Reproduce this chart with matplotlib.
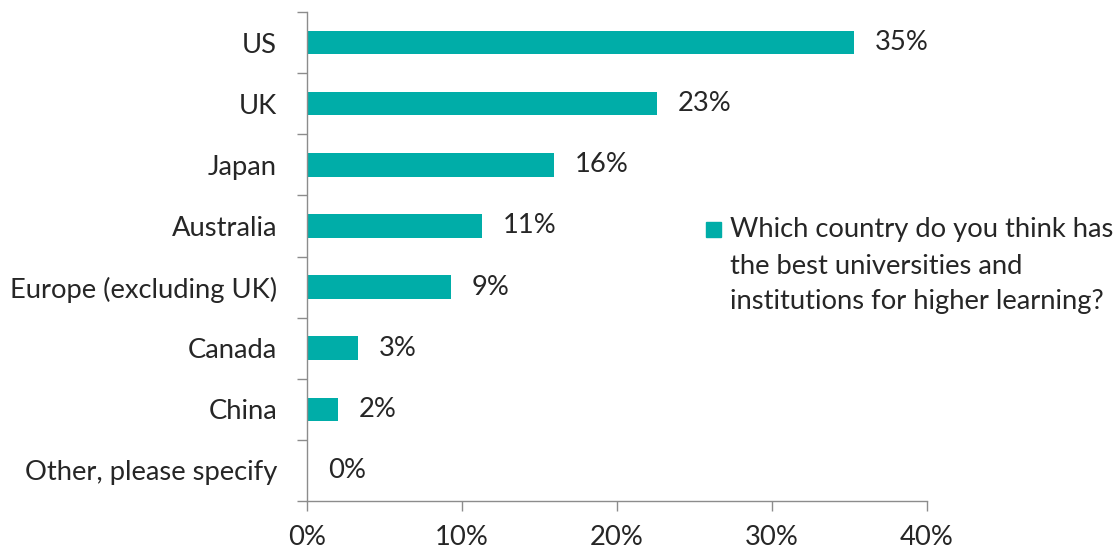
import matplotlib
matplotlib.use('Agg')
import matplotlib.pyplot as plt
from matplotlib.patches import Rectangle

plt.rcParams['font.family'] = ['Lato', 'DejaVu Sans']

# Ответы на вопрос о лучших университетах (доля, %)
countries = [
    'US',
    'UK',
    'Japan',
    'Australia',
    'Europe (excluding UK)',
    'Canada',
    'China',
    'Other, please specify',
]
shares = [35.3, 22.6, 15.95, 11.3, 9.3, 3.3, 1.98, 0.0]
x_ticks = [0, 10, 20, 30, 40]
question = ('Which country do you think has\n'
            'the best universities and\n'
            'institutions for higher learning?')

bar_color = '#00ADA8'
text_color = '#262626'
axis_color = '#8C8C8C'
fs = 19.7

fig = plt.figure(figsize=(11.2, 5.53), dpi=100)
ax = fig.add_axes([307 / 1120, 1 - 501 / 553, 620 / 1120, 489 / 553])

pos = list(range(len(countries)))
ax.barh(pos, shares, height=0.385, color=bar_color)

# подписи значений справа от столбцов
for p, v in zip(pos, shares):
    ax.annotate(f'{v:.0f}%', xy=(v, p), xytext=(15, 0),
                textcoords='offset points', va='center', ha='left',
                fontsize=fs, color=text_color)

ax.set_xlim(0, 40)
ax.set_ylim(len(countries) - 0.5, -0.5)

ax.set_yticks(pos)
ax.set_yticklabels(countries)
ax.set_yticks([p - 0.5 for p in pos] + [len(countries) - 0.5], minor=True)
ax.tick_params(axis='y', which='major', length=0, pad=21.6,
               labelsize=fs, labelcolor=text_color)
ax.tick_params(axis='y', which='minor', length=7.2, width=1, color=axis_color)

ax.set_xticks(x_ticks)
ax.set_xticklabels([f'{t}%' for t in x_ticks])
ax.tick_params(axis='x', length=7.2, width=1, color=axis_color, pad=10,
               labelsize=fs, labelcolor=text_color)

for side in ('top', 'right'):
    ax.spines[side].set_visible(False)
for side in ('left', 'bottom'):
    ax.spines[side].set_color(axis_color)
    ax.spines[side].set_linewidth(1)

# легенда: квадрат и текст вопроса
fig.patches.append(Rectangle((706 / 1120, 1 - 237 / 553), 15 / 1120, 15 / 553,
                             transform=fig.transFigure, color=bar_color))
fig.text(730 / 1120, 1 - 266 / 553, question, ha='left', va='center',
         fontsize=fs, color=text_color, linespacing=1.55,
         transform=fig.transFigure)

fig.savefig('out.png', dpi=100)
